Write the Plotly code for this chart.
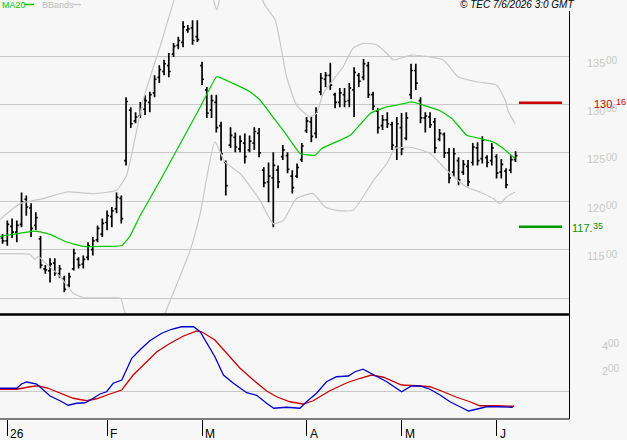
import plotly.graph_objects as go

# ---------------- data ----------------
# bar index: 0 = first session of 2026 (Jan 2), -1 = Dec 31 2025
bar_idx = list(range(-1, 108))
high = [116.6, 118.0, 118.2, 118.0, 120.9, 120.6, 119.8, 118.85, 116.4, 113.4,
        114.1, 114.1, 113.4, 112.3, 112.6, 115.1, 114.2, 114.4, 115.75, 116.3,
        117.5, 118.2, 119.05, 119.4, 120.9, 120.6, 130.75, 129.7, 129.2, 130.25,
        130.95, 131.3, 133.0, 134.05, 134.6, 135.3, 136.35, 137.0, 138.6, 138.2,
        138.7, 138.7, 134.4, 131.8, 131.0, 131.0, 128.2, 124.2, 127.65, 127.1,
        126.8, 127.0, 126.8, 127.65, 127.55, 123.5, 124.0, 125.05, 123.7, 125.8,
        125.05, 123.2, 123.9, 126.0, 128.7, 128.7, 129.7, 133.25, 133.35, 134.3,
        131.2, 131.7, 131.7, 132.2, 133.85, 133.25, 134.7, 134.4, 131.3, 129.6,
        128.9, 129.2, 128.2, 128.7, 129.1, 129.2, 134.2, 134.2, 130.75, 129.2,
        129.2, 128.6, 127.45, 127.1, 125.5, 125.5, 124.55, 124.25, 124.25, 126.0,
        126.1, 126.7, 124.75, 126.0, 124.85, 124.35, 123.4, 124.75, 125.15]
low = [115.6, 115.4, 116.2, 115.75, 117.3, 118.5, 116.3, 117.0, 113.05, 112.5,
       111.6, 112.3, 112.1, 110.6, 111.1, 112.85, 113.05, 113.05, 113.9, 114.4,
       115.75, 116.3, 117.0, 117.3, 118.75, 117.7, 123.7, 127.55, 128.05, 128.6,
       128.9, 129.2, 130.75, 132.2, 133.0, 132.8, 134.9, 135.7, 135.9, 137.4,
       136.15, 136.45, 132.0, 128.6, 128.6, 127.1, 124.2, 120.6, 125.5, 125.05,
       125.05, 123.9, 125.05, 125.3, 124.55, 121.45, 119.9, 117.3, 121.35, 124.25,
       122.9, 120.8, 122.4, 124.05, 127.05, 126.1, 126.5, 130.95, 131.8, 131.5,
       129.6, 129.7, 129.7, 129.7, 128.7, 131.8, 132.5, 130.65, 129.4, 127.0,
       127.35, 127.55, 125.3, 124.25, 124.75, 126.3, 130.55, 131.5, 128.05, 127.1,
       127.55, 124.95, 126.2, 124.45, 121.85, 122.5, 121.65, 122.7, 121.55, 123.7,
       123.7, 123.9, 123.5, 123.7, 122.35, 122.35, 121.35, 122.9, 124.05]
open_ = [116.2, 115.9, 117.4, 116.8, 117.6, 120.2, 119.3, 117.5, 116.1, 113.0,
         112.8, 113.6, 112.5, 112.0, 111.3, 113.0, 114.0, 113.5, 114.2, 115.0,
         116.0, 116.6, 117.8, 118.4, 119.2, 120.3, 124.2, 129.4, 128.3, 128.8,
         129.5, 130.2, 131.2, 132.8, 133.4, 134.0, 135.2, 136.1, 136.4, 137.7,
         137.9, 137.0, 134.0, 131.5, 129.4, 130.2, 127.8, 124.0, 125.8, 126.6,
         125.4, 126.0, 125.3, 126.0, 127.0, 123.2, 122.0, 122.4, 123.2, 124.6,
         124.7, 122.6, 122.6, 124.3, 127.3, 128.2, 127.0, 131.3, 132.6, 133.0,
         131.0, 130.2, 131.0, 130.4, 131.5, 133.0, 132.8, 134.0, 131.0, 129.3,
         127.8, 128.4, 127.9, 125.6, 127.6, 126.5, 131.0, 133.5, 130.4, 128.6,
         128.7, 128.2, 126.4, 126.9, 125.0, 123.0, 124.2, 123.0, 123.6, 124.0,
         125.5, 124.4, 124.5, 124.2, 124.6, 123.0, 123.1, 123.2, 124.3]
close = [115.9, 117.6, 116.8, 117.5, 119.9, 119.4, 117.2, 118.3, 113.4, 112.9,
         113.5, 112.6, 113.0, 110.9, 112.2, 114.6, 113.4, 114.0, 115.4, 115.9,
         117.2, 117.7, 118.5, 119.0, 120.4, 118.2, 130.3, 128.0, 128.7, 129.7,
         130.4, 131.0, 132.6, 133.6, 134.2, 133.4, 136.0, 136.6, 138.0, 137.8,
         136.6, 136.7, 132.6, 129.1, 130.4, 127.6, 124.9, 121.6, 126.8, 125.6,
         126.2, 124.6, 126.2, 127.2, 125.0, 121.9, 122.6, 123.7, 122.0, 125.3,
         123.3, 121.4, 123.5, 125.7, 128.3, 126.7, 129.2, 132.7, 133.0, 132.0,
         130.2, 131.2, 130.3, 131.7, 133.3, 132.4, 134.2, 131.0, 129.8, 127.6,
         128.4, 128.0, 125.8, 128.0, 125.4, 128.6, 133.5, 132.2, 128.6, 128.8,
         127.9, 125.5, 127.0, 125.0, 122.4, 124.9, 122.2, 123.8, 122.0, 125.6,
         124.2, 126.3, 124.0, 125.5, 122.9, 123.8, 121.7, 124.3, 124.7]

# MA20 line (bar index, price)
ma_x = [-1.6, 6.0, 9.0, 12.5, 16.0, 24.1, 25.8, 27.9, 32.2, 36.4, 40.6, 44.1,
        47.5, 51.1, 53.2, 55.9, 58.8, 61.6, 64.8, 66.2, 72.2, 76.4, 79.9, 82.0,
        85.1, 87.6, 91.1, 93.6, 96.7, 99.5, 102.3, 104.4, 106.9]
ma_y = [116.37, 116.91, 116.57, 115.78, 115.33, 115.43, 116.37, 118.44, 122.16,
        125.93, 129.70, 132.86, 132.17, 131.30, 130.45, 128.72, 126.82, 124.93,
        124.75, 125.45, 126.82, 129.07, 129.75, 129.93, 130.27, 129.93, 129.34,
        128.55, 126.82, 126.48, 126.13, 125.45, 124.41]

# Bollinger bands
bbu_x = [-1.6, 2.7, 7.6, 12.5, 18.1, 23.0, 25.1, 28.6, 32.2, 34.6, 37.4, 40.6,
         43.1, 44.1, 45.2, 50.0, 54.2, 56.4, 58.8, 60.9, 63.7, 65.1, 66.5, 70.7,
         72.8, 74.9, 77.8, 79.9, 81.3, 85.1, 91.8, 94.9, 98.8, 103.0, 104.8,
         105.5, 106.9]
bbu_y = [118.09, 119.75, 120.27, 120.95, 120.79, 121.13, 122.68, 130.45, 136.04,
         139.94, 143.9, 144.4, 141.3, 139.76, 141.8, 144.9, 140.28, 138.73,
         132.86, 129.93, 128.72, 129.07, 131.14, 133.89, 135.80, 136.31, 136.14,
         135.28, 134.59, 135.10, 134.59, 132.86, 132.34, 132.0, 130.45, 129.23,
         128.03]
bbl_x = [-1.6, 4.8, 5.8, 6.5, 7.9, 11.1, 13.9, 16.0, 23.0, 23.9, 24.8, 27.9,
         31.1, 33.2, 38.5, 40.6, 43.7, 45.8, 49.0, 53.2, 56.0, 58.1, 60.9, 64.4,
         66.9, 69.3, 72.8, 77.1, 79.9, 81.6, 85.1, 89.0, 92.5, 96.7, 99.5, 102.3,
         103.7, 105.1, 106.9]
bbl_y = [114.58, 114.5, 113.99, 114.3, 113.68, 112.23, 110.47, 110.05, 110.02,
         109.95, 108.4, 105.6, 105.1, 108.37, 114.92, 118.72, 126.13, 124.06,
         122.86, 120.09, 117.68, 118.02, 120.27, 120.79, 119.4, 119.06, 119.06,
         122.16, 123.89, 125.45, 125.55, 124.93, 123.20, 121.47, 120.95, 120.27,
         119.75, 120.43, 120.95]

# MACD (blue) and signal (red)
macd_x = [-1.6, 2.0, 3.0, 4.1, 6.2, 7.6, 9.0, 11.1, 12.8, 14.6, 16.4, 18.1, 19.5,
          20.9, 22.3, 24.1, 24.8, 26.2, 27.9, 30.0, 32.5, 34.6, 36.7, 39.2, 40.6,
          42.0, 43.7, 45.5, 47.6, 50.4, 52.5, 54.6, 56.1, 58.8, 61.6, 63.0, 65.1,
          67.2, 69.3, 71.8, 73.2, 74.9, 77.1, 79.9, 83.0, 85.1, 86.9, 89.0, 91.1,
          93.2, 95.3, 97.1, 99.2, 100.9, 103.0, 106.4]
macd_y = [0.22, 0.22, 0.56, 0.72, 0.56, 0.08, -0.40, -0.78, -1.14, -0.98, -0.94,
          -0.58, -0.24, -0.06, 0.62, 0.88, 1.42, 2.62, 3.28, 4.02, 4.62, 4.94,
          5.14, 5.14, 4.74, 3.82, 2.74, 1.28, 0.62, -0.14, -0.34, -0.98, -1.38,
          -1.30, -1.38, -0.86, -0.18, 0.74, 1.14, 1.20, 1.54, 1.74, 1.28, 0.74,
          -0.06, 0.40, 0.40, 0.14, -0.32, -0.86, -1.26, -1.60, -1.42, -1.26,
          -1.26, -1.30]
sig_x = [-1.6, 2.0, 4.8, 6.5, 8.6, 11.1, 13.9, 16.7, 18.8, 21.6, 24.1, 26.5, 29.3,
         31.5, 34.3, 37.1, 39.9, 40.9, 43.7, 46.2, 49.0, 51.8, 54.6, 56.7, 59.5,
         62.3, 64.4, 67.9, 71.5, 74.3, 76.7, 79.2, 83.0, 86.2, 89.0, 91.8, 94.6,
         97.4, 99.5, 103.0, 106.7]
sig_y = [0.14, 0.14, 0.34, 0.42, 0.22, -0.14, -0.58, -0.78, -0.62, -0.24, 0.08,
         1.28, 2.34, 3.14, 3.82, 4.40, 4.80, 4.74, 4.08, 3.02, 1.82, 0.88, 0.0,
         -0.46, -0.86, -1.04, -0.78, 0.02, 0.66, 1.02, 1.28, 1.10, 0.48, 0.42,
         0.34, -0.06, -0.50, -0.86, -1.18, -1.18, -1.22]

month_ticks = [0, 21, 41, 63, 83, 103]
month_labels = ["26", "F", "M", "A", "M", "J"]
price_ticks = [135, 130, 125, 120, 115]
price_grid = [110, 115, 120, 125, 130, 135]
macd_ticks = [4, 2]
level_high = 130.16
level_low = 117.35

# ---------------- styling / geometry ----------------
W, H = 627, 440
BG = "#f7f7f7"
GRID = "#c8c8c8"
FONT = "Liberation Sans, Arial, sans-serif"
px_per_bar = 4.75
x0_px = 7.3
plot_right = 569.5


def xr(px):
    return px / W


def yr(px):
    return (H - px) / H


x_range = [(0 - x0_px) / px_per_bar, (plot_right - x0_px) / px_per_bar]
ppu = 9.68
y_range = [135 - (314.5 - 56) / ppu, 135 + 56 / ppu]
m_scale = 12.5  # px per 1.00 of MACD
m_range = [(391 - 419) / m_scale, (391 - 315.5) / m_scale]

fig = go.Figure()

band_line = dict(color="#c8c8c8", width=1.2, shape="spline", smoothing=0.5)
fig.add_trace(go.Scatter(x=bbu_x, y=bbu_y, mode="lines", line=band_line,
                         xaxis="x", yaxis="y", hoverinfo="skip"))
fig.add_trace(go.Scatter(x=bbl_x, y=bbl_y, mode="lines", line=band_line,
                         xaxis="x", yaxis="y", hoverinfo="skip"))
fig.add_trace(go.Scatter(x=ma_x, y=ma_y, mode="lines",
                         line=dict(color="#00c800", width=1.2, shape="spline", smoothing=0.3),
                         xaxis="x", yaxis="y", hoverinfo="skip"))
fig.add_trace(go.Ohlc(x=bar_idx, open=open_, high=high, low=low, close=close,
                      increasing=dict(line=dict(color="black", width=1.7)),
                      decreasing=dict(line=dict(color="black", width=1.7)),
                      tickwidth=0.4, xaxis="x", yaxis="y"))

fig.add_trace(go.Scatter(x=sig_x, y=sig_y, mode="lines",
                         line=dict(color="#cc0000", width=1.3),
                         xaxis="x2", yaxis="y2", hoverinfo="skip"))
fig.add_trace(go.Scatter(x=macd_x, y=macd_y, mode="lines",
                         line=dict(color="#0000cc", width=1.3),
                         xaxis="x2", yaxis="y2", hoverinfo="skip"))

fig.update_layout(
    width=W, height=H, margin=dict(l=0, r=0, t=0, b=0),
    paper_bgcolor=BG, plot_bgcolor=BG, showlegend=False,
    font=dict(family=FONT),
    xaxis=dict(domain=[0, xr(plot_right)], range=x_range, anchor="y",
               showgrid=False, zeroline=False, showticklabels=False,
               ticks="", rangeslider=dict(visible=False), fixedrange=True),
    yaxis=dict(domain=[yr(314.5), 1], range=y_range, anchor="x",
               tickvals=price_grid, showticklabels=False, ticks="",
               showgrid=True, gridcolor=GRID, gridwidth=1, zeroline=False),
    xaxis2=dict(domain=[0, xr(plot_right)], range=x_range, anchor="y2",
                showgrid=False, zeroline=False, showticklabels=False,
                tickvals=month_ticks, ticks="outside", ticklen=16,
                tickcolor="black", tickwidth=1),
    yaxis2=dict(domain=[yr(419), yr(315.5)], range=m_range, anchor="x2",
                tickvals=[0], showticklabels=False, ticks="",
                showgrid=True, gridcolor=GRID, gridwidth=1, zeroline=False),
)

shapes = []
# panel borders
shapes.append(dict(type="line", xref="paper", yref="paper", x0=0, x1=xr(plot_right),
                   y0=yr(314.5), y1=yr(314.5), line=dict(color="black", width=2.5)))
shapes.append(dict(type="line", xref="paper", yref="paper", x0=0, x1=xr(plot_right),
                   y0=yr(419), y1=yr(419), line=dict(color="black", width=1)))
shapes.append(dict(type="line", xref="paper", yref="paper", x0=xr(plot_right), x1=xr(plot_right),
                   y0=yr(11), y1=yr(419), line=dict(color="black", width=1)))
# level marks
shapes.append(dict(type="line", xref="paper", yref="y", x0=xr(519), x1=xr(562),
                   y0=level_high, y1=level_high, line=dict(color="#cc0000", width=2.5)))
shapes.append(dict(type="line", xref="paper", yref="y", x0=xr(519), x1=xr(562),
                   y0=level_low, y1=level_low, line=dict(color="#009900", width=2.5)))
# legend swatches
shapes.append(dict(type="line", xref="paper", yref="paper", x0=xr(24.5), x1=xr(34),
                   y0=yr(4.5), y1=yr(4.5), line=dict(color="#00c800", width=1.5)))
shapes.append(dict(type="line", xref="paper", yref="paper", x0=xr(72.5), x1=xr(81),
                   y0=yr(4.5), y1=yr(4.5), line=dict(color="#c8c8c8", width=1.5)))
fig.update_layout(shapes=shapes)

ann = []


def two_part(big, small, x_big, x_small, y, yref, shift, color, big_size, small_size):
    ann.append(dict(x=xr(x_big), xref="paper", y=y, yref=yref, text=big,
                    showarrow=False, xanchor="left", yanchor="middle", yshift=shift,
                    font=dict(size=big_size, color=color, family=FONT)))
    ann.append(dict(x=xr(x_small), xref="paper", y=y, yref=yref, text=small,
                    showarrow=False, xanchor="left", yanchor="middle", yshift=shift + 2,
                    font=dict(size=small_size, color=color, family=FONT)))


for t, lab in zip(month_ticks, month_labels):
    ann.append(dict(x=t, xref="x2", y=yr(433.5), yref="paper", text=lab,
                    showarrow=False, xanchor="left", yanchor="middle", xshift=1,
                    font=dict(size=12, color="black", family=FONT)))
for p in price_ticks:
    two_part(str(p), "00", 584.5, 604.0, p, "y", -6.5, "#c8c8c8", 11, 10)
for m in macd_ticks:
    two_part(str(m), "00", 599.5, 606.0, m, "y2", -4.5, "#c8c8c8", 11, 10)

hi_int, hi_dec = f"{level_high:.2f}".split(".")
lo_int, lo_dec = f"{level_low:.2f}".split(".")
two_part(hi_int + ".", hi_dec, 592, 613.5, level_high, "y", -1, "#cc0000", 11, 9)
two_part(lo_int + ".", lo_dec, 569.5, 590.5, level_low, "y", -1, "#009900", 11, 9)

# header texts
ann.append(dict(x=0, xref="paper", y=yr(5), yref="paper", text="MA20",
                showarrow=False, xanchor="left", yanchor="middle",
                font=dict(size=9, color="#00c800", family=FONT)))
ann.append(dict(x=xr(40), xref="paper", y=yr(5), yref="paper", text="BBands",
                showarrow=False, xanchor="left", yanchor="middle",
                font=dict(size=9, color="#c0c0c0", family=FONT)))
ann.append(dict(x=xr(576), xref="paper", y=yr(5), yref="paper",
                text="<i>© TEC 7/6/2026 3:0 GMT</i>", showarrow=False,
                xanchor="right", yanchor="middle",
                font=dict(size=10, color="black", family=FONT)))
fig.update_layout(annotations=ann)

fig.write_html("out.html")
